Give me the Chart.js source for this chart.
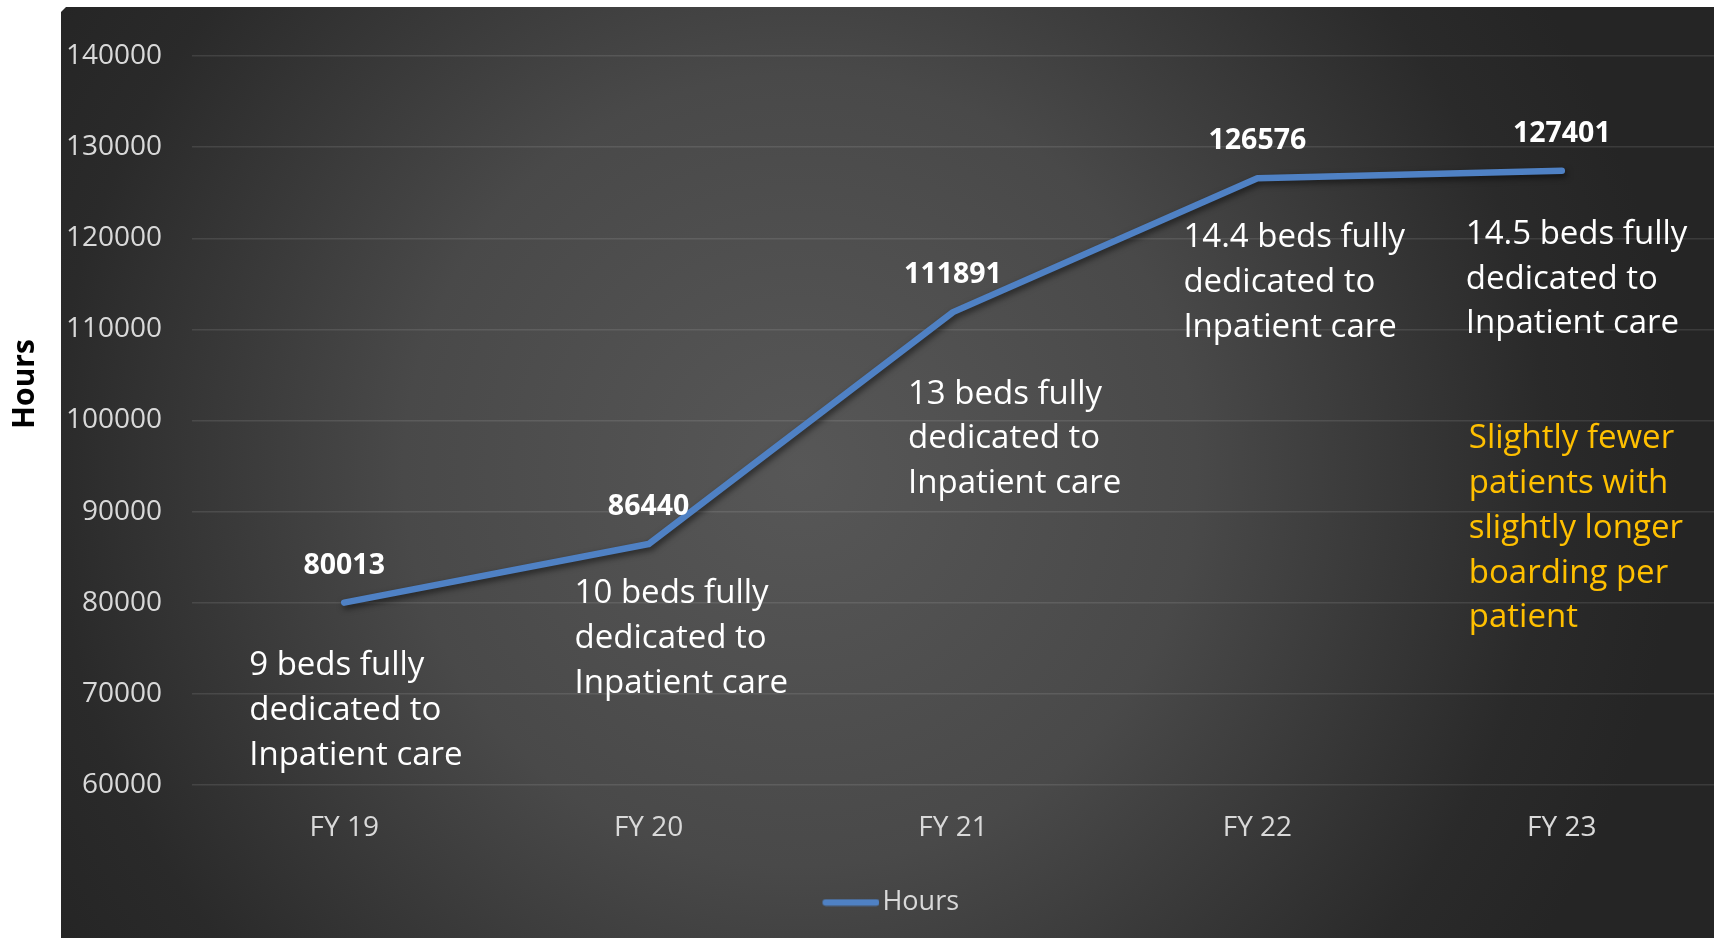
<!DOCTYPE html>
<html>
<head>
<meta charset="utf-8">
<title>Inpatient boarding hours</title>
<script src="https://cdn.jsdelivr.net/npm/chart.js@4.4.1/dist/chart.umd.min.js"></script>
<style>
  html, body { margin: 0; padding: 0; background: #fff; }
  canvas { display: block; }
</style>
</head>
<body>
<canvas id="hoursChart" width="1714" height="938"></canvas>
<script>
const fiscalYears = ['FY 19', 'FY 20', 'FY 21', 'FY 22', 'FY 23'];
const boardingHours = [80013, 86440, 111891, 126576, 127401];
const yTicks = [60000, 70000, 80000, 90000, 100000, 110000, 120000, 130000, 140000];

const bedNotes = [
  ['9 beds fully', 'dedicated to', 'Inpatient care'],
  ['10 beds fully', 'dedicated to', 'Inpatient care'],
  ['13 beds fully', 'dedicated to', 'Inpatient care'],
  ['14.4 beds fully', 'dedicated to', 'Inpatient care'],
  ['14.5 beds fully', 'dedicated to', 'Inpatient care'],
];
const trendNote = ['Slightly fewer', 'patients with', 'slightly longer', 'boarding per', 'patient'];

const FONT = "'Open Sans', sans-serif";
const LINE_BLUE = '#4f81c4';

Chart.defaults.font.family = FONT;

// legend swatch: short rounded line, pushed right so it sits close to the text
const legendSwatch = document.createElement('canvas');
legendSwatch.width = 69;
legendSwatch.height = 8;
{
  const sctx = legendSwatch.getContext('2d');
  sctx.strokeStyle = LINE_BLUE;
  sctx.lineWidth = 6.5;
  sctx.lineCap = 'round';
  sctx.beginPath();
  sctx.moveTo(15.25, 4);
  sctx.lineTo(65.75, 4);
  sctx.stroke();
}

// dark panel with a soft radial glow, white margin round it
const panelBackground = {
  id: 'panelBackground',
  beforeDraw(chart) {
    const { ctx, width, height } = chart;
    const x0 = 61, y0 = 7;
    ctx.save();
    ctx.fillStyle = '#fff';
    ctx.fillRect(0, 0, width, height);
    const g = ctx.createRadialGradient(800, 470, 0, 800, 470, 880);
    g.addColorStop(0, '#575757');
    g.addColorStop(0.45, '#494949');
    g.addColorStop(0.85, '#2a2a2a');
    g.addColorStop(1, '#252525');
    ctx.fillStyle = g;
    ctx.beginPath();
    ctx.moveTo(x0, y0 + 5);
    ctx.lineTo(x0 + 5, y0);
    ctx.lineTo(width, y0);
    ctx.lineTo(width, height);
    ctx.lineTo(x0, height);
    ctx.closePath();
    ctx.fill();

    // axis title sits on the white margin
    ctx.translate(25, 384);
    ctx.rotate(-Math.PI / 2);
    ctx.fillStyle = '#000';
    ctx.font = `bold 30px ${FONT}`;
    ctx.textAlign = 'center';
    ctx.textBaseline = 'middle';
    ctx.fillText('Hours', 0, 0);
    ctx.restore();
  },
  afterLayout(chart) {
    // centre the legend on the panel rather than the canvas
    chart.legend.left = 66;
  },
};

// drop shadow under the line
const lineShadow = {
  id: 'lineShadow',
  beforeDatasetDraw(chart) {
    const ctx = chart.ctx;
    ctx.save();
    ctx.shadowColor = 'rgba(0, 0, 0, 0.55)';
    ctx.shadowBlur = 6;
    ctx.shadowOffsetX = 2;
    ctx.shadowOffsetY = 3;
  },
  afterDatasetDraw(chart) {
    chart.ctx.restore();
  },
};

// value labels above each point plus the bed count notes
const pointNotes = {
  id: 'pointNotes',
  afterDatasetsDraw(chart) {
    const { ctx } = chart;
    const pts = chart.getDatasetMeta(0).data;
    const noteDx = [-95, -74, -45, -74, -96];
    const noteDy = [63, 50, 82, 59.5, 63.5];
    const lineGap = 44.8;

    ctx.save();
    ctx.textBaseline = 'middle';

    ctx.font = `bold 28.5px ${FONT}`;
    ctx.fillStyle = '#fff';
    ctx.textAlign = 'center';
    pts.forEach((pt, i) => {
      ctx.fillText(String(boardingHours[i]), pt.x, pt.y - 37);
    });

    ctx.font = `33px ${FONT}`;
    ctx.textAlign = 'left';
    pts.forEach((pt, i) => {
      bedNotes[i].forEach((line, j) => {
        ctx.fillText(line, pt.x + noteDx[i], pt.y + noteDy[i] + j * lineGap);
      });
    });

    const last = pts[pts.length - 1];
    ctx.fillStyle = '#ffc000';
    trendNote.forEach((line, j) => {
      ctx.fillText(line, last.x - 93, last.y + 268 + j * lineGap);
    });
    ctx.restore();
  },
};

new Chart(document.getElementById('hoursChart'), {
  type: 'line',
  data: {
    labels: fiscalYears,
    datasets: [
      {
        label: 'Hours',
        data: boardingHours,
        borderColor: LINE_BLUE,
        backgroundColor: LINE_BLUE,
        borderWidth: 6.5,
        borderCapStyle: 'round',
        borderJoinStyle: 'round',
        pointRadius: 0,
        pointHoverRadius: 0,
        tension: 0,
      },
    ],
  },
  options: {
    responsive: false,
    animation: false,
    events: [],
    layout: {
      padding: { top: 56, right: 0, bottom: 12, left: 0 },
    },
    plugins: {
      tooltip: { enabled: false },
      legend: {
        position: 'bottom',
        labels: {
          usePointStyle: true,
          pointStyle: legendSwatch,
          pointStyleWidth: 48,
          color: '#d9d9d9',
          font: { size: 27 },
          padding: 10,
        },
      },
    },
    scales: {
      x: {
        offset: true,
        grid: { display: false, drawTicks: false },
        border: { display: false },
        ticks: { color: '#d9d9d9', font: { size: 28 }, padding: 26 },
        afterFit(scale) {
          scale.height = 94;
        },
      },
      y: {
        min: 60000,
        max: 140000,
        grid: { color: 'rgba(255, 255, 255, 0.1)', lineWidth: 1.5, drawTicks: false },
        border: { display: false },
        ticks: {
          color: '#d9d9d9',
          font: { size: 28 },
          padding: 30,
          callback: (v) => String(v),
        },
        afterBuildTicks(scale) {
          scale.ticks = yTicks.map((v) => ({ value: v }));
        },
        afterFit(scale) {
          scale.width = 192;
        },
      },
    },
  },
  plugins: [panelBackground, lineShadow, pointNotes],
});
</script>
</body>
</html>
